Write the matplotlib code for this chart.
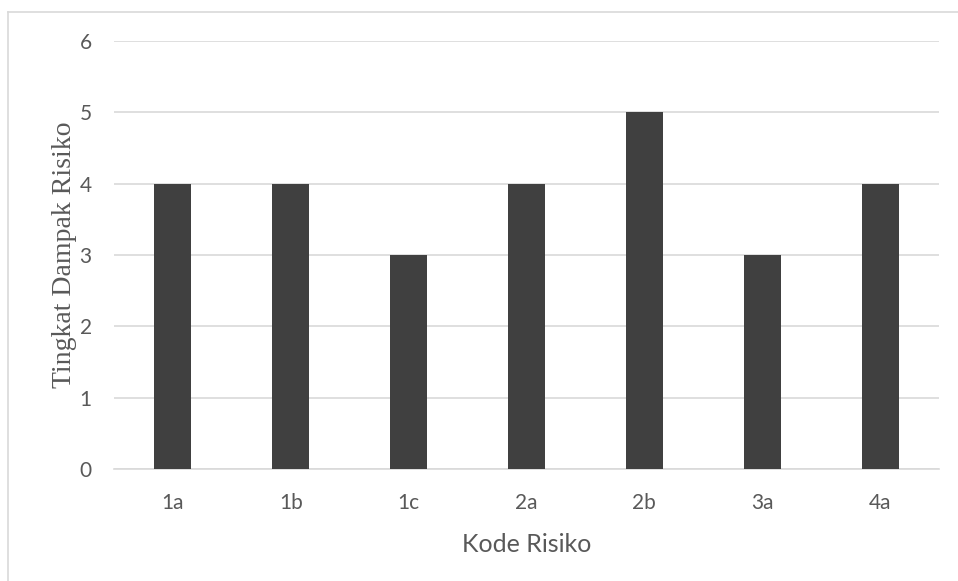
import matplotlib
matplotlib.use("Agg")
import matplotlib.pyplot as plt
from matplotlib.lines import Line2D

categories = ["1a", "1b", "1c", "2a", "2b", "3a", "4a"]
values = [4, 4, 3, 4, 5, 3, 4]
y_ticks = [0, 1, 2, 3, 4, 5, 6]

fig = plt.figure(figsize=(9.58, 5.81), dpi=100)
ax = fig.add_axes([114 / 958, 1 - 469 / 581, (939 - 114) / 958, (469 - 41) / 581])

x = list(range(len(categories)))
ax.bar(x, values, width=0.315, color="#404040", zorder=3)

ax.set_xlim(-0.5, len(categories) - 0.5)
ax.set_ylim(0, 6)
ax.set_yticks(y_ticks)
ax.set_xticks(x)
ax.set_xticklabels(categories)
ax.yaxis.grid(True, color="#d9d9d9", linewidth=1.2, zorder=0)
ax.set_axisbelow(True)

for side in ["top", "right", "left"]:
    ax.spines[side].set_visible(False)
ax.spines["bottom"].set_color("#d9d9d9")
ax.spines["bottom"].set_linewidth(1.2)
ax.tick_params(axis="both", length=0, labelsize=15, labelcolor="#595959")
ax.tick_params(axis="x", pad=17)
ax.tick_params(axis="y", pad=16)
for lab in ax.get_xticklabels() + ax.get_yticklabels():
    lab.set_family("Lato")

ax.set_ylabel("Tingkat Dampak Risiko", family="Liberation Serif", fontsize=20,
              color="#595959", labelpad=2)
ax.set_xlabel("Kode Risiko", family="Lato", fontsize=18, color="#595959",
              labelpad=15)

# chart area frame
fig.add_artist(Line2D([8 / 958, 8 / 958], [0, 1 - 12 / 581], transform=fig.transFigure,
                      color="#d9d9d9", linewidth=1.2))
fig.add_artist(Line2D([8 / 958, 1], [1 - 12 / 581, 1 - 12 / 581], transform=fig.transFigure,
                      color="#d9d9d9", linewidth=1.2))

fig.savefig("out.png", dpi=100, facecolor="white")
